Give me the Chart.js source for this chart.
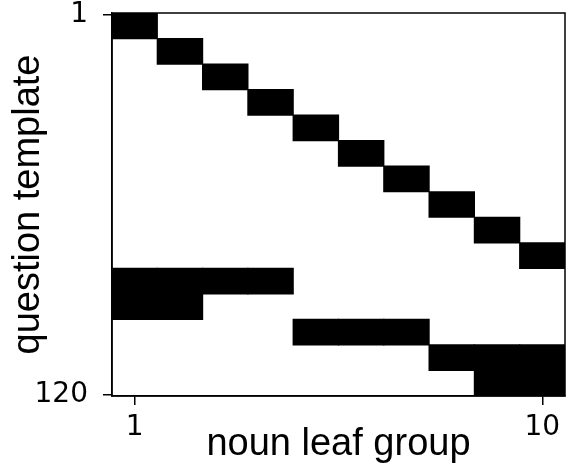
<!DOCTYPE html>
<html><head><meta charset="utf-8">
<script src="https://cdn.jsdelivr.net/npm/chart.js@4/dist/chart.umd.min.js"></script>
<style>html,body{margin:0;padding:0;background:#fff}#wrap{width:567px;height:468px;position:relative}</style>
</head><body><div id="wrap"><canvas id="c" width="567" height="468"></canvas></div>
<script>
// noun leaf groups (columns)
const nounGroups = ['1','2','3','4','5','6','7','8','9','10'];
// first active run of question templates per group (diagonal blocks)
const diagonalStart = [1, 9, 17, 25, 33, 41, 49, 57, 65, 73];
const diagonalEnd   = [8, 16, 24, 32, 40, 48, 56, 64, 72, 80];
// second active run of question templates per group (shared blocks)
const sharedStart = [81, 81, 81, 81, 97, 97, 97, 105, 105, 105];
const sharedEnd   = [96, 96, 88, 88, 104, 104, 104, 112, 120, 120];
// tick labels
const xTickLabels = ['1', '10'];
const yTickLabels = [1, 120];
const templateCount = 120;

const diagData = nounGroups.map((g, i) => [diagonalStart[i] - 0.5, diagonalEnd[i] + 0.5]);
const sharedData = nounGroups.map((g, i) => [sharedStart[i] - 0.5, sharedEnd[i] + 0.5]);

const frame = {
  id: 'frame',
  afterDatasetsDraw(chart) {
    const a = chart.chartArea, ctx = chart.ctx;
    ctx.save();
    ctx.strokeStyle = '#000';
    ctx.lineWidth = 1.5;
    ctx.strokeRect(a.left, a.top, a.right - a.left, a.bottom - a.top);
    ctx.restore();
  }
};

new Chart(document.getElementById('c'), {
  type: 'bar',
  data: {
    labels: nounGroups,
    datasets: [
      { data: diagData, backgroundColor: '#000', borderWidth: 0, grouped: false, inflateAmount: 0.6,
        barPercentage: 1, categoryPercentage: 1 },
      { data: sharedData, backgroundColor: '#000', borderWidth: 0, grouped: false, inflateAmount: 0.6,
        barPercentage: 1, categoryPercentage: 1 }
    ]
  },
  options: {
    responsive: false,
    animation: false,
    layout: { padding: { top: 13, right: 2, left: 0, bottom: 0 } },
    plugins: { legend: { display: false }, tooltip: { enabled: false } },
    scales: {
      x: {
        type: 'category',
        offset: true,
        grid: { offset: false, drawOnChartArea: false, drawTicks: true, tickLength: 9, color: '#000', lineWidth: 1.5 },
        border: { display: true, color: '#000', width: 1.5 },
        afterBuildTicks(scale) {
          scale.ticks = xTickLabels.map(l => ({ value: nounGroups.indexOf(l) }));
        },
        ticks: {
          autoSkip: false, maxRotation: 0, color: '#000', padding: 6,
          font: { family: 'DejaVu Sans', size: 28 },
          callback(v) { return nounGroups[v]; }
        },
        title: { display: true, text: 'noun leaf group', color: '#000',
          font: { family: 'Liberation Sans', size: 38 }, padding: { top: 0, bottom: 1 } },
        afterFit(scale) { scale.height = 72; scale.paddingLeft = 0; scale.paddingRight = 0; }
      },
      y: {
        type: 'linear',
        reverse: true,
        min: 0.5,
        max: templateCount + 0.5,
        grid: { drawOnChartArea: false, drawTicks: true, tickLength: 9, color: '#000', lineWidth: 1.5 },
        border: { display: true, color: '#000', width: 1.5 },
        afterBuildTicks(scale) {
          scale.ticks = yTickLabels.map(v => ({ value: v }));
        },
        ticks: {
          color: '#000', padding: 15,
          font: { family: 'DejaVu Sans', size: 28 },
          callback(v) { return String(v); }
        },
        title: { display: true, text: 'question template', color: '#000',
          font: { family: 'Liberation Sans', size: 38 }, padding: { top: 6, bottom: 0 } },
        afterFit(scale) { scale.width = 112; scale.paddingTop = 0; scale.paddingBottom = 0; }
      }
    }
  },
  plugins: [frame]
});
</script>
</body></html>
